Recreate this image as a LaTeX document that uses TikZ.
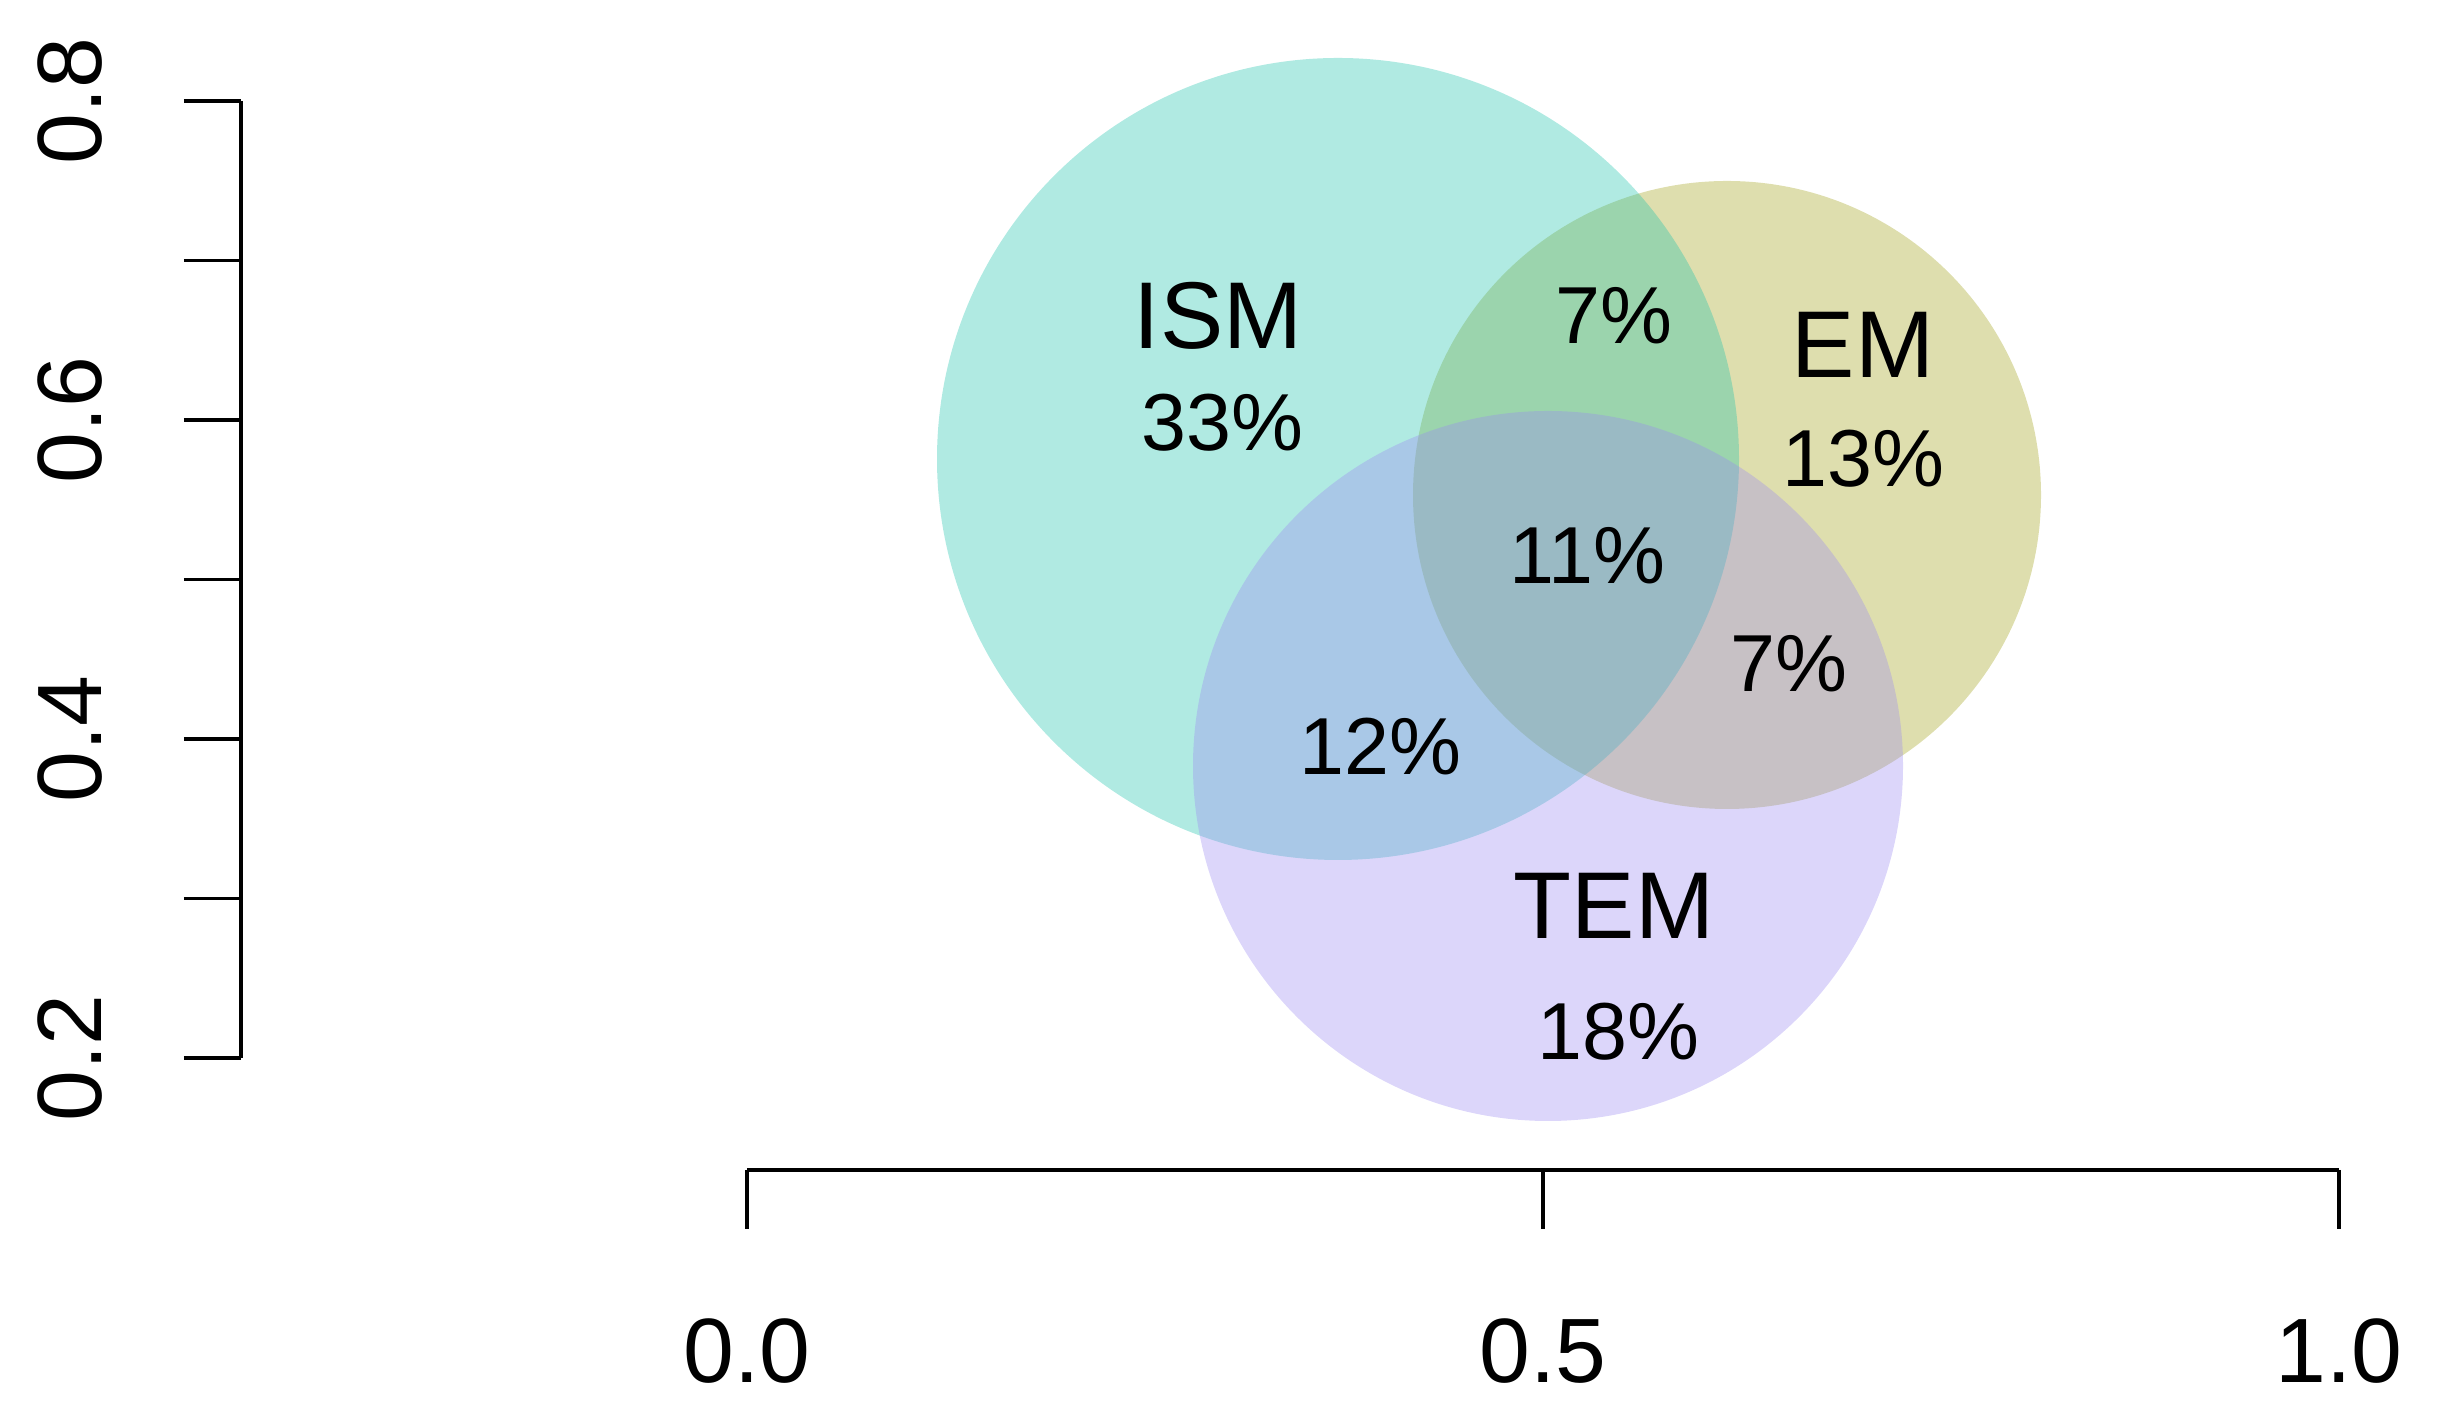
\documentclass[tikz,border=0pt]{standalone}
\usepackage{fontspec}
\setmainfont{Liberation Sans}
\usepackage{tikz}
\usetikzlibrary{positioning}
\definecolor{ismcol}{RGB}{29, 195, 172}
\definecolor{emcol}{RGB}{161, 161, 24}
\definecolor{temcol}{RGB}{155, 138, 241}

\begin{document}
\begin{tikzpicture}[
    setname/.style={font=\fontsize{27}{32}\selectfont},
    share/.style={font=\fontsize{23}{28}\selectfont},
    ticklab/.style={font=\fontsize{26}{31}\selectfont},
    axisline/.style={line width=1.1pt}]
  \useasboundingbox (-7.47,-0.50) rectangle (16.93,13.77);

  % the three sets
  \fill[emcol, fill opacity=0.35] (9.80,8.82) circle (3.14);
  \fill[ismcol, fill opacity=0.35] (5.91,9.18) circle (4.01);
  \fill[temcol, fill opacity=0.35] (8.01,6.11) circle (3.55);

  % set names and shares
  \node[setname] (ism) at (4.71,10.61) {ISM};
  \node[share] (ismonly) at (4.75,9.54) {33\%};
  \node[setname] (em) at (11.16,10.32) {EM};
  \node[share] (emonly) at (11.16,9.18) {13\%};
  \node[setname] (tem) at (8.67,4.71) {TEM};
  \node[share] (temonly) at (8.71,3.45) {18\%};
  \node[share] (ismem) at (8.67,10.61) {7\%};
  \node[share] (all) at (8.40,8.21) {11\%};
  \node[share] (emtem) at (10.42,7.13) {7\%};
  \node[share] (ismtem) at (6.33,6.30) {12\%};

  % left axis
  \draw[axisline] (-5.06,3.19) -- (-5.06,12.76);
  \foreach \k in {0,...,6}
    \draw[axisline] (-5.63,3.19+1.595*\k) -- (-5.06,3.19+1.595*\k);
  \foreach \v/\k in {0.2/0,0.4/2,0.6/4,0.8/6}
    \node[ticklab, rotate=90] (ylab\k) at (-6.77,3.19+1.595*\k) {\v};

  % bottom axis
  \draw[axisline] (0,2.07) -- (15.92,2.07);
  \foreach \v/\k in {0.0/0,0.5/1,1.0/2} {
    \draw[axisline] (7.96*\k,2.07) -- (7.96*\k,1.48);
    \node[ticklab] (xlab\k) at (7.96*\k,0.26) {\v};
  }
\end{tikzpicture}
\end{document}
